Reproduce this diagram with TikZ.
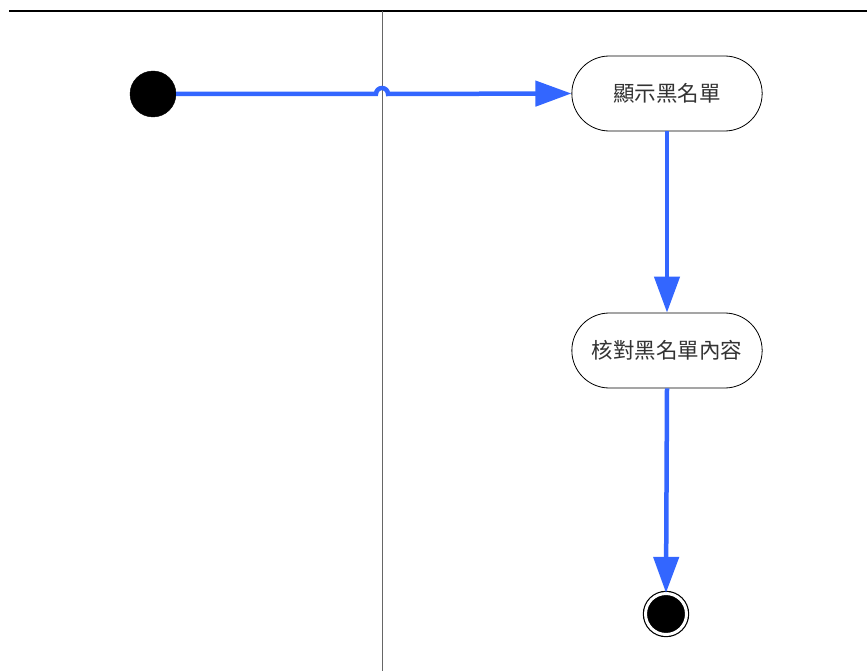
\documentclass[tikz,border=0pt]{standalone}
\usepackage{fontspec}
\newfontfamily\cjk{Noto Sans CJK TC}
\usepackage{tikz}
\usetikzlibrary{arrows.meta,positioning,calc,shapes.misc}
\definecolor{flowblue}{HTML}{3366FF}
\tikzset{
  actbox/.style={draw, rounded rectangle, minimum width=197pt, minimum height=75pt, line width=0.8pt, fill=white, text=black!80, font=\cjk\fontsize{21.5}{26}\selectfont},
  startdot/.style={draw, circle, fill=black, minimum size=46pt, inner sep=0pt},
  enddot/.style={draw, circle, fill=black, minimum size=41pt, inner sep=0pt, double=white, double distance=3pt, line width=1.2pt},
  flow/.style={-{Triangle[length=36pt,width=25pt]}, line width=4.5pt, flowblue},
  laneline/.style={line width=0.8pt, black!60},
}

\begin{document}
\begin{tikzpicture}[x=1pt, y=-1pt]
  \useasboundingbox (0,0) rectangle (867,671);
  % swimlanes
  \draw[line width=1.6pt] (9,11) -- (867,11);
  \draw[laneline] (382,11) -- (382,671);
  % nodes
  \node[startdot] (start) at (153,94) {};
  \node[actbox] (show) at (667,93.5) {顯示黑名單};
  \node[actbox] (check) at (667,350.5) {核對黑名單內容};
  \node[enddot] (stop) at (666,614) {};
  \coordinate (jump) at (382,94);
  % flows
  \draw[flow] (start.east) -- ([xshift=-6pt]jump) arc[start angle=180, end angle=0, radius=6pt] -- (show.west);
  \draw[flow] (show.south) -- (check.north);
  \draw[flow] (check.south) -- (stop.north);
\end{tikzpicture}
\end{document}
